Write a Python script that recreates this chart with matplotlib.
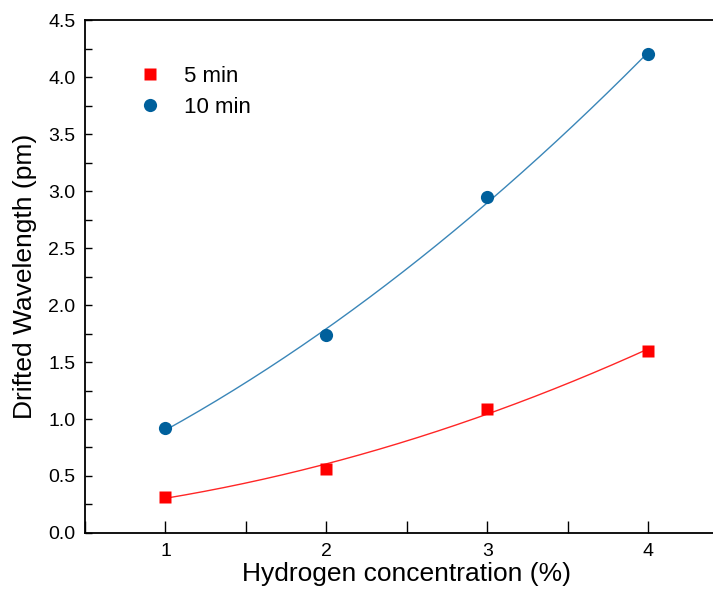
import numpy as np
import matplotlib
matplotlib.use('Agg')
import matplotlib.pyplot as plt
from matplotlib.ticker import MultipleLocator, FormatStrFormatter

plt.rcParams['font.family'] = ['Liberation Sans', 'DejaVu Sans']

# Data
conc = [1, 2, 3, 4]
drift_5min = [0.32, 0.56, 1.09, 1.60]
drift_10min = [0.92, 1.74, 2.95, 4.20]

red = '#FF0000'
blue = '#00609C'

fig = plt.figure(figsize=(7.13, 5.94), dpi=100)
ax = fig.add_axes([0.1192, 0.1027, 0.903, 0.8636])

# smooth fit curves through the measured points
xs = np.linspace(1, 4, 200)
fit5 = np.polyfit(conc, drift_5min, 2)
fit10 = np.polyfit(conc, drift_10min, 2)
ax.plot(xs, np.polyval(fit5, xs), color=red, lw=1.0, alpha=0.85)
ax.plot(xs, np.polyval(fit10, xs), color='#3A86B8', lw=1.0)

ax.plot(conc, drift_5min, 's', color=red, ms=8.5, mec='none', label='5 min')
ax.plot(conc, drift_10min, 'o', color=blue, ms=9.5, mec='none', label='10 min')

ax.set_xlim(0.5, 4.5)
ax.set_ylim(0, 4.5)
ax.xaxis.set_major_locator(MultipleLocator(1))
ax.xaxis.set_minor_locator(MultipleLocator(0.5))
ax.yaxis.set_major_locator(MultipleLocator(0.5))
ax.yaxis.set_minor_locator(MultipleLocator(0.25))
ax.yaxis.set_major_formatter(FormatStrFormatter('%.1f'))
ax.tick_params(which='both', direction='in', width=1.0,
               top=False, right=False, labelsize=14)
ax.tick_params(axis='x', which='both', length=9, pad=7)
ax.tick_params(axis='y', which='both', length=5, pad=7)

for sp in ax.spines.values():
    sp.set_linewidth(1.3)

ax.set_xlabel('Hydrogen concentration (%)', fontsize=19, labelpad=2)
ax.set_ylabel('Drifted Wavelength (pm)', fontsize=19, labelpad=8)

ax.legend(loc='upper left', bbox_to_anchor=(0.085, 0.910), frameon=False,
          fontsize=16, handlelength=0.9, handletextpad=1.1,
          labelspacing=0.45, borderpad=0, borderaxespad=0)

fig.savefig('out.png', dpi=100)
